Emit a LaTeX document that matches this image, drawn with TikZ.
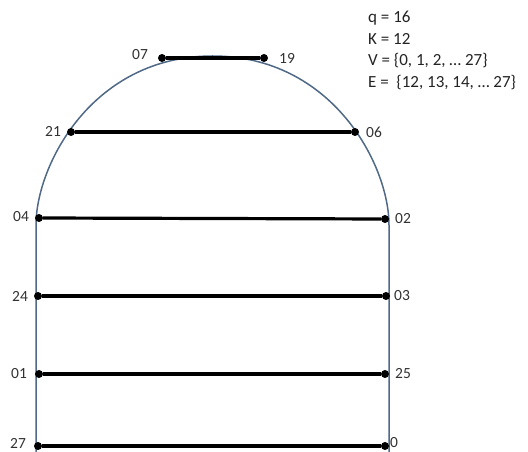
\documentclass[tikz,border=0pt]{standalone}
\usepackage{fontspec}
\setmainfont{Carlito}
\begin{document}
\begin{tikzpicture}[x=1pt,y=1pt,
  outline/.style={draw={rgb,255:red,80;green,105;blue,135}, line width=1.5pt},
  chord/.style={draw=black, line width=3.2pt},
  vdot/.style={circle, fill=black, inner sep=0pt, minimum size=8pt},
  lbl/.style={text={rgb,255:red,50;green,50;blue,50}, font=\fontsize{15.5}{18}\selectfont, inner sep=0pt},
  info/.style={text={rgb,255:red,35;green,35;blue,35}, font=\fontsize{17}{20}\selectfont, inner sep=0pt, anchor=west}]
\useasboundingbox (0,0) rectangle (528,452);
% outline
\draw[outline] (36,0) -- (36,227) .. controls (36,287) and (92.5,396) .. (212.5,396)
  .. controls (332.5,396) and (389,287) .. (389,227) -- (389,0);
% vertices
\node[vdot] (v07) at (162,394) {};
\node[vdot] (v19) at (264,394) {};
\node[vdot] (v21) at (71,320) {};
\node[vdot] (v06) at (355,320) {};
\node[vdot] (v04) at (39,234) {};
\node[vdot] (v02) at (385,233) {};
\node[vdot] (v24) at (38,156) {};
\node[vdot] (v03) at (386,156) {};
\node[vdot] (v01) at (39,78) {};
\node[vdot] (v25) at (385,78) {};
\node[vdot] (v27) at (38,6) {};
\node[vdot] (v0) at (385,6) {};
% chords
\draw[chord] (v07) -- (v19);
\draw[chord] (v21) -- (v06);
\draw[chord] (v04) -- (v02);
\draw[chord] (v24) -- (v03);
\draw[chord] (v01) -- (v25);
\draw[chord] (v27) -- (v0);
% labels
\node[lbl] (l07) at (140,397) {07};
\node[lbl] (l19) at (287,394) {19};
\node[lbl] (l21) at (53,321) {21};
\node[lbl] (l06) at (374,320) {06};
\node[lbl] (l04) at (21,235) {04};
\node[lbl] (l02) at (403,233) {02};
\node[lbl] (l24) at (20,156) {24};
\node[lbl] (l03) at (402,156) {03};
\node[lbl] (l01) at (19,78) {01};
\node[lbl] (l25) at (403,78) {25};
\node[lbl] (l27) at (18,9) {27};
\node[lbl] (l0) at (394,9) {0};
% info text
\node[info] (tq) at (368,434) {q = 16};
\node[info] (tk) at (368,413) {K = 12};
\node[info] (tv) at (368,391) {V = \{0, 1, 2, … 27\}};
\node[info] (te) at (368,369) {E =~ \{12, 13, 14, … 27\}};
\end{tikzpicture}
\end{document}
